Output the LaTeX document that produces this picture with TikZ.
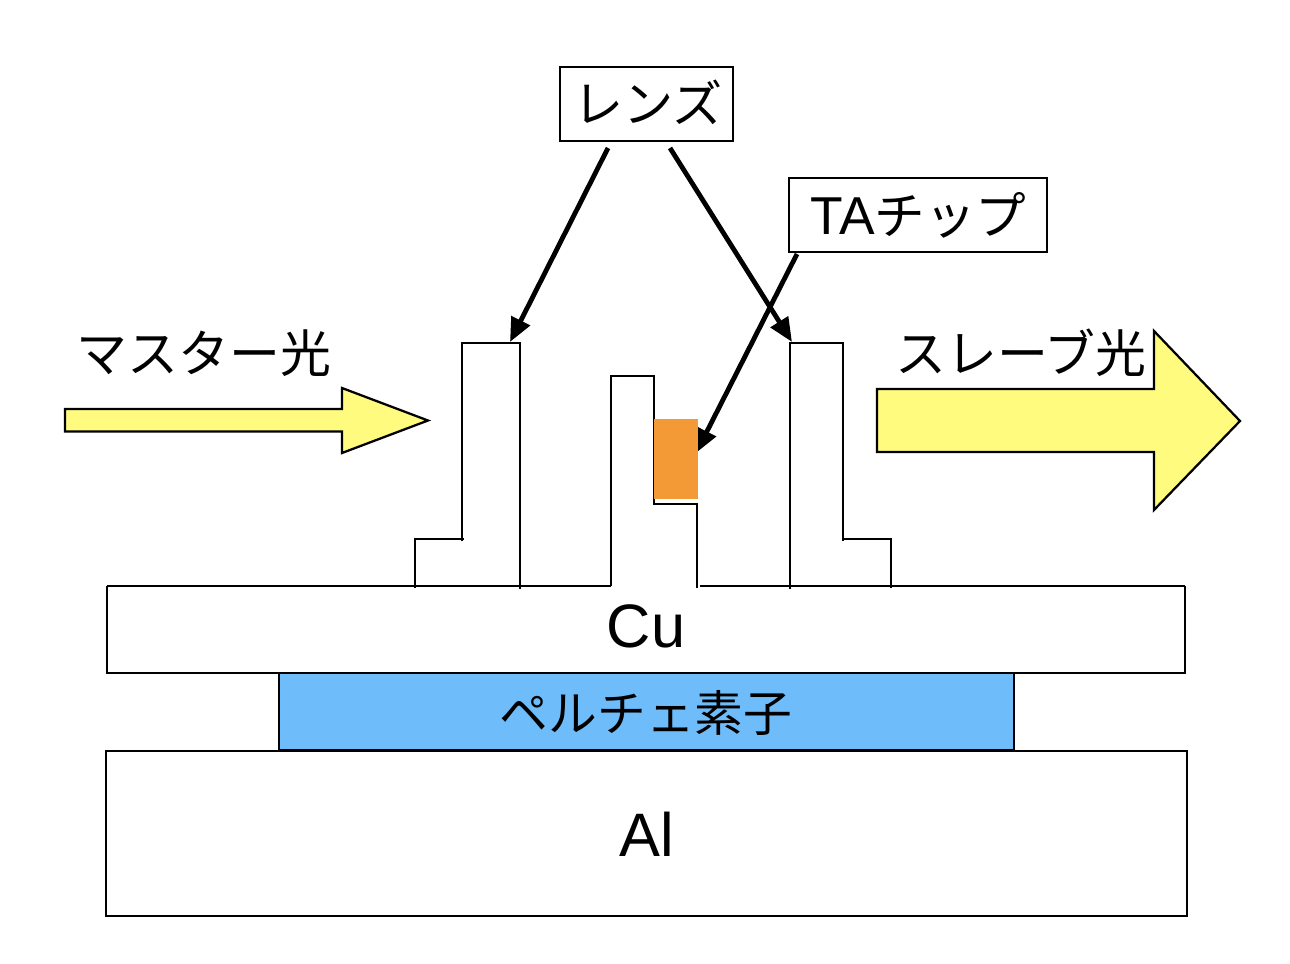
\documentclass[tikz,border=0pt]{standalone}
\usepackage{fontspec}
\setmainfont{Liberation Sans}
\newfontfamily\jpfont{Noto Sans CJK JP}
\usetikzlibrary{arrows.meta}
\definecolor{lightyel}{HTML}{FFFB7F}
\definecolor{chiporange}{HTML}{F39A37}
\definecolor{peltblue}{HTML}{6EBDFA}
\tikzset{
  x=0.75pt,y=-0.75pt,
  thinline/.style={draw=black,line width=1.25pt},
  medline/.style={draw=black,line width=1.7pt},
  lightarrow/.style={draw=black,fill=lightyel,line width=1.7pt,line join=miter},
  pointer/.style={draw=black,line width=3.6pt,-{Triangle[length=18pt,width=15pt]}},
  labelbox/.style={draw=black,line width=1.7pt,fill=white,inner sep=0pt,align=center},
  jptext/.style={font=\jpfont\fontsize{38.2pt}{38.2pt}\selectfont,inner sep=0pt,anchor=base},
  jpsmall/.style={font=\jpfont\fontsize{36.6pt}{36.6pt}\selectfont,inner sep=0pt,anchor=base},
  jplens/.style={font=\jpfont\fontsize{37.6pt}{37.6pt}\selectfont,inner sep=0pt,anchor=base},
  latintext/.style={font=\fontsize{46pt}{46pt}\selectfont,inner sep=0pt,anchor=base},
}
\begin{document}
\begin{tikzpicture}
\useasboundingbox[fill=white] (0,0) rectangle (1290,964);
% light arrows
\draw[lightarrow] (65,409) -- (342,409) -- (342,388) -- (428,420.5) -- (342,453) -- (342,431.5) -- (65,431.5) -- cycle;
\draw[lightarrow] (877,389) -- (1154,389) -- (1154,331) -- (1240,421) -- (1154,510) -- (1154,452) -- (877,452) -- cycle;
% lens and chip mounts
\draw[thinline] (415,588) -- (415,539) -- (464,539);
\draw[thinline] (462,541) -- (462,343) -- (520,343) -- (520,589);
\draw[thinline] (611,586) -- (611,376) -- (654,376) -- (654,504) -- (697,504) -- (697,588);
\draw[thinline] (790,589) -- (790,343) -- (843,343) -- (843,539) -- (891,539) -- (891,588);
\draw[thinline] (843,539) -- (843,541);
% Cu block
\draw[medline] (611,586) -- (107,586);
\draw[medline] (700,586) -- (1185,586);
\draw[medline] (107,673) -- (1185,673);
\draw[draw=black,line width=0.8pt] (107,586) -- (107,674) (1185,586) -- (1185,674);
% Peltier and Al
\node[draw=black,fill=peltblue,line width=0.8pt,inner sep=0pt,minimum width=735*0.75pt,minimum height=77*0.75pt] (peltier) at (646.5,711.5) {};
\node[medline,inner sep=0pt,minimum width=1081*0.75pt,minimum height=165*0.75pt] (al) at (646.5,833.5) {};
\node[latintext] (cutext) at (646,647) {Cu};
\node[jpsmall] (pelttext) at (646,731) {ペルチェ素子};
\node[latintext] (altext) at (647,856) {Al};
\node[jptext] (master) at (204,372.5) {マスター光};
\node[jptext] (slave) at (1021,372.5) {スレーブ光};
% label boxes
\node[labelbox,minimum width=173*0.75pt,minimum height=74*0.75pt] (lens) at (646.5,104) {};
\node[jplens] (lenstext) at (648,122) {レンズ};
\node[labelbox,minimum width=258*0.75pt,minimum height=74.5*0.75pt] (ta) at (918,215) {};
\node[inner sep=0pt,anchor=base] (tatext) at (918.5,234) {\fontsize{40pt}{40pt}\selectfont TA\jpfont\fontsize{38pt}{38pt}\selectfont チップ};
% pointers
\coordinate (lensA) at (608,148);
\coordinate (lensB) at (670,148);
\coordinate (taS) at (797,254);
\coordinate (tipA) at (510,342);
\coordinate (tipB) at (792,342);
\coordinate (tipC) at (696,453);
\draw[pointer] (lensA) -- (tipA);
\draw[pointer] (lensB) -- (tipB);
\draw[pointer] (taS) -- (tipC);
% chip
\fill[chiporange] (654,419) rectangle (698,499);
\end{tikzpicture}
\end{document}
